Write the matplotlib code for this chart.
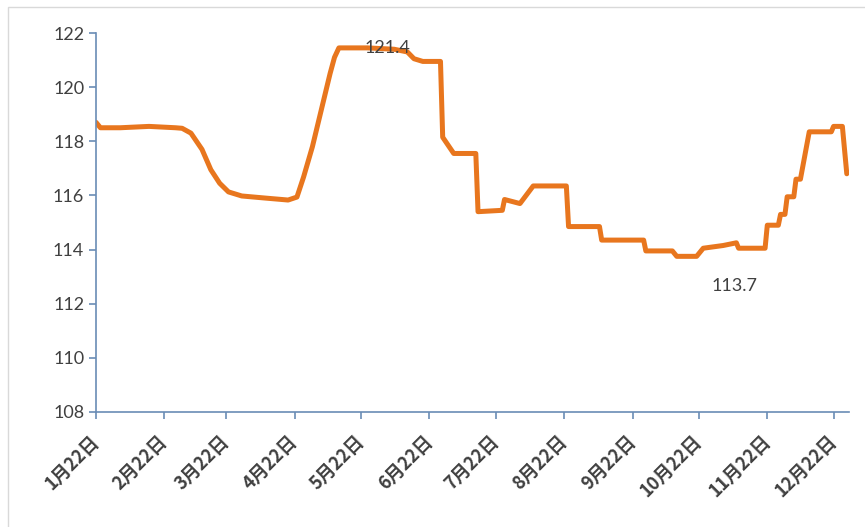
import pandas as pd
import matplotlib.pyplot as plt
from matplotlib.patches import Rectangle

# price index
dates = ['2021-01-22', '2021-01-24', '2021-02-02', '2021-02-15', '2021-02-27',
         '2021-03-02', '2021-03-06', '2021-03-11', '2021-03-15', '2021-03-19',
         '2021-03-23', '2021-03-29', '2021-04-09', '2021-04-19', '2021-04-23',
         '2021-04-26', '2021-04-30', '2021-05-04', '2021-05-08', '2021-05-10',
         '2021-05-12', '2021-05-25', '2021-06-06', '2021-06-12', '2021-06-15',
         '2021-06-19', '2021-06-27', '2021-06-28', '2021-07-03', '2021-07-13',
         '2021-07-14', '2021-07-25', '2021-07-26', '2021-08-02', '2021-08-08',
         '2021-08-23', '2021-08-24', '2021-09-07', '2021-09-08', '2021-09-27',
         '2021-09-28', '2021-10-10', '2021-10-12', '2021-10-21', '2021-10-24',
         '2021-11-02', '2021-11-08', '2021-11-09', '2021-11-21', '2021-11-22',
         '2021-11-27', '2021-11-28', '2021-11-30', '2021-12-01', '2021-12-04',
         '2021-12-05', '2021-12-07', '2021-12-11', '2021-12-21', '2021-12-22',
         '2021-12-26', '2021-12-28']
values = [118.7, 118.5, 118.5, 118.55, 118.5,
          118.48, 118.3, 117.7, 116.95, 116.45,
          116.13, 115.98, 115.9, 115.83, 115.94,
          116.68, 117.8, 119.15, 120.5, 121.1,
          121.45, 121.45, 121.4, 121.3, 121.05,
          120.95, 120.95, 118.15, 117.55, 117.55,
          115.4, 115.45, 115.85, 115.7, 116.35,
          116.35, 114.85, 114.85, 114.35, 114.35,
          113.95, 113.95, 113.75, 113.75, 114.05,
          114.15, 114.25, 114.05, 114.05, 114.9,
          114.9, 115.3, 115.3, 115.95, 115.95,
          116.6, 116.6, 118.35, 118.35, 118.55,
          118.55, 116.8]

tick_dates = pd.date_range('2021-01-22', periods=12, freq=pd.DateOffset(months=1))
tick_labels = [f'{d.month}月22日' for d in tick_dates]

max_label, max_date, max_value = '121.4', '2021-06-03', 121.45
min_label, min_date, min_value = '113.7', '2021-11-07', 113.75

plt.rcParams['font.family'] = ['Lato', 'DejaVu Sans']

x = pd.to_datetime(dates)

fig = plt.figure(figsize=(8.65, 5.27), dpi=100)
ax = fig.add_axes([96 / 865, 1 - 412 / 527, (849 - 96) / 865, (412 - 33) / 527])

# light gray frame around the chart
fig.patches.append(Rectangle((8 / 865, -0.01), 1.0, 1 - 7 / 527 + 0.01,
                             transform=fig.transFigure, fill=False,
                             edgecolor='#D9D9D9', linewidth=1.0))

ax.plot(x, values, color='#E8761E', linewidth=3.6, solid_joinstyle='round',
        solid_capstyle='round')

ax.set_ylim(108, 122)
ax.set_yticks(range(108, 123, 2))
ax.set_xlim(pd.Timestamp('2021-01-22'), pd.Timestamp('2021-12-29'))
ax.set_xticks(tick_dates)
ax.set_xticklabels(tick_labels, rotation=45, ha='right', va='center',
                   rotation_mode='anchor', fontsize=13, fontweight='bold',
                   family=['Noto Sans CJK SC', 'DejaVu Sans'], color='#404040')

for lab in ax.get_yticklabels():
    lab.set_fontsize(13)
    lab.set_color('#404040')

for side in ['top', 'right']:
    ax.spines[side].set_visible(False)
for side in ['left', 'bottom']:
    ax.spines[side].set_color('#6A8CB5')
    ax.spines[side].set_linewidth(1.2)
ax.tick_params(axis='both', direction='out', length=5, width=1.2, color='#6A8CB5')
ax.tick_params(axis='x', pad=14)

ax.annotate(max_label, (pd.Timestamp(max_date), max_value), ha='center', va='center',
            fontsize=13, color='#404040')
ax.annotate(min_label, (pd.Timestamp(min_date), min_value), xytext=(0, -21),
            textcoords='offset points', ha='center', va='center',
            fontsize=13, color='#404040')

plt.savefig('out.png', dpi=100)
